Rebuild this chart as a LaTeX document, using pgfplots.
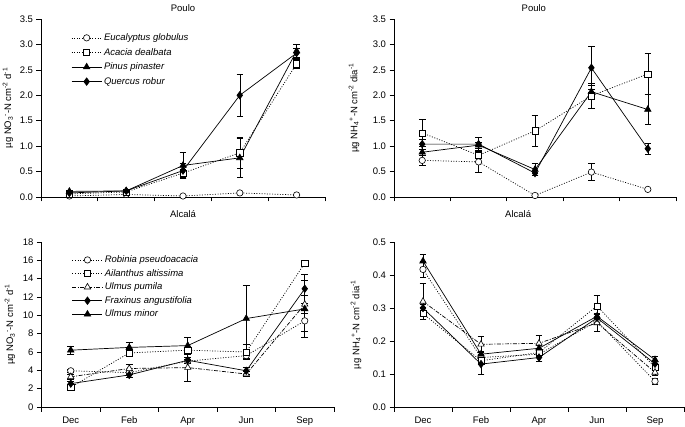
\documentclass[border=0pt]{standalone}
\usepackage{fontspec}
\setmainfont{Liberation Sans}
\usepackage{pgfplots}
\pgfplotsset{compat=1.18}
\newcommand\tf{\fontsize{9.5}{11.4}\selectfont}
\pgfplotsset{
  base/.style={
    scale only axis, xmin=-0.5, xmax=4.5, ymin=0,
    axis x line*=bottom, axis y line*=left,
    axis line style={line width=0.7pt},
    tick align=outside, tick style={line width=0.7pt, black},
    major tick length=4.5pt, minor tick length=4.5pt,
    xtick={0,...,4}, minor xtick={-0.5,0.5,...,4.5},
    major x tick style={draw=none},
    /pgf/number format/assume math mode=true,
    tick label style={font=\tf},
    xticklabel style={yshift=-2pt},
    label style={font=\tf},
    title style={font=\tf, anchor=center},
    legend style={draw=none, fill=none, anchor=north west,
      font=\itshape\tf, row sep=2.6pt, inner sep=0pt},
    legend cell align=left,
    legend image code/.code={\draw[mark repeat=2,mark phase=2] plot coordinates {(0pt,0pt)(15pt,0pt)(30pt,0pt)};},
  },
  eb/.style={error bars/.cd, y dir=both, y explicit,
    error bar style={solid, line width=0.6pt},
    error mark options={rotate=90, mark size=3.3pt, solid, line width=0.6pt}},
  sCirc/.style={black, line width=0.7pt, dash pattern=on 1pt off 1.6pt, mark=*, mark size=3.2pt, mark options={solid, fill=white, line width=0.6pt}, eb},
  sSq/.style={black, line width=0.7pt, dash pattern=on 1pt off 1.6pt, mark=square*, mark size=3.1pt, mark options={solid, fill=white, line width=0.6pt}, eb},
  sTriO/.style={black, line width=0.7pt, dash pattern=on 4pt off 1.5pt on 1pt off 1.5pt, mark=triangle*, mark size=3.7pt, mark options={solid, fill=white, line width=0.6pt}, eb},
  sTriF/.style={black, line width=0.7pt, solid, mark=triangle*, mark size=3.7pt, mark options={solid, fill=black}, eb},
  sDia/.style={black, line width=0.7pt, solid, mark=diamond*, mark size=3.7pt, mark options={solid, fill=black}, eb},
}
\begin{document}
\begin{tikzpicture}
\path[use as bounding box] (0pt,0pt) rectangle (685pt,426pt);
% ---------- Top left: Poulo NO3
\begin{axis}[base, at={(41pt,229pt)}, anchor=south west, width=284pt, height=178pt,
  ymax=3.5, ytick={0,0.5,1,1.5,2,2.5,3,3.5}, xticklabels={},
  yticklabel style={/pgf/number format/.cd, fixed, fixed zerofill, precision=1},
  ylabel={µg NO\textsubscript{3}\textsuperscript{-}-N cm\textsuperscript{-2} d\textsuperscript{-1}},
  ylabel style={at={(rel axis cs:0,0.5)}, yshift=33pt, anchor=center},
  title={Poulo}, title style={at={(rel axis cs:0.5,1)}, yshift=5pt},
  legend style={at={(rel axis cs:0.106,0.93)}, row sep=2.2pt}]
\addplot[sCirc] table[x=x,y=y,y error=e,row sep=\\]{x y e\\ 0 0.02 0.01\\ 1 0.05 0.01\\ 2 0.02 0.01\\ 3 0.08 0.02\\ 4 0.04 0.01\\};
\addlegendentry{Eucalyptus globulus}
\addplot[sSq] table[x=x,y=y,y error=e,row sep=\\]{x y e\\ 0 0.06 0.02\\ 1 0.10 0.02\\ 2 0.47 0.08\\ 3 0.87 0.30\\ 4 2.62 0.08\\};
\addlegendentry{Acacia dealbata}
\addplot[sTriF] table[x=x,y=y,y error=e,row sep=\\]{x y e\\ 0 0.11 0.02\\ 1 0.12 0.02\\ 2 0.62 0.25\\ 3 0.77 0.39\\ 4 2.87 0.13\\};
\addlegendentry{Pinus pinaster}
\addplot[sDia] table[x=x,y=y,y error=e,row sep=\\]{x y e\\ 0 0.08 0.02\\ 1 0.12 0.02\\ 2 0.52 0.15\\ 3 2.00 0.42\\ 4 2.83 0.10\\};
\addlegendentry{Quercus robur}
\end{axis}
% ---------- Top right: Poulo NH4
\begin{axis}[base, at={(394pt,229pt)}, anchor=south west, width=282pt, height=178pt,
  ymax=3.5, ytick={0,0.5,1,1.5,2,2.5,3,3.5}, xticklabels={},
  yticklabel style={/pgf/number format/.cd, fixed, fixed zerofill, precision=1},
  ylabel={µg NH\textsubscript{4}\textsuperscript{+}-N cm\textsuperscript{-2} dia\textsuperscript{-1}},
  ylabel style={at={(rel axis cs:0,0.5)}, yshift=40pt, anchor=center},
  title={Poulo}, title style={at={(rel axis cs:0.496,1)}, yshift=5pt}]
\addplot[sCirc] table[x=x,y=y,y error=e,row sep=\\]{x y e\\ 0 0.72 0.10\\ 1 0.69 0.21\\ 2 0.03 0.01\\ 3 0.49 0.17\\ 4 0.15 0.02\\};
\addplot[sSq] table[x=x,y=y,y error=e,row sep=\\]{x y e\\ 0 1.26 0.27\\ 1 0.82 0.05\\ 2 1.30 0.30\\ 3 1.99 0.25\\ 4 2.42 0.40\\};
\addplot[sTriF] table[x=x,y=y,y error=e,row sep=\\]{x y e\\ 0 0.88 0.06\\ 1 1.02 0.06\\ 2 0.54 0.12\\ 3 2.07 0.13\\ 4 1.72 0.29\\};
\addplot[sDia] table[x=x,y=y,y error=e,row sep=\\]{x y e\\ 0 1.04 0.10\\ 1 1.04 0.13\\ 2 0.47 0.05\\ 3 2.54 0.43\\ 4 0.95 0.11\\};
\end{axis}
% ---------- Bottom left: Alcala NO3
\begin{axis}[base, at={(41.5pt,19pt)}, anchor=south west, width=292.5pt, height=165pt,
  ymax=18, ytick={0,2,...,18}, xticklabels={Dec,Feb,Apr,Jun,Sep},
  ylabel={µg NO\textsubscript{3}\textsuperscript{-}-N cm\textsuperscript{-2} d\textsuperscript{-1}},
  ylabel style={at={(rel axis cs:0,0.5)}, yshift=31.5pt, anchor=center},
  title={Alcalá}, title style={at={(rel axis cs:0.484,1)}, yshift=22pt},
  legend style={at={(rel axis cs:0.104,0.93)}, row sep=1.2pt}]
\addplot[sCirc] table[x=x,y=y,y error=e,row sep=\\]{x y e\\ 0 3.95 0.2\\ 1 3.75 0.2\\ 2 5.0 0.2\\ 3 5.6 0.3\\ 4 9.4 1.15\\};
\addlegendentry{Robinia pseudoacacia}
\addplot[sSq] table[x=x,y=y,y error=e,row sep=\\]{x y e\\ 0 2.15 0.2\\ 1 5.9 0.4\\ 2 6.2 0.3\\ 3 6.0 0.8\\ 4 15.7 0.3\\};
\addlegendentry{Ailanthus altissima}
\addplot[sTriO] table[x=x,y=y,y error=e,row sep=\\]{x y e\\ 0 3.3 0.3\\ 1 4.2 0.5\\ 2 4.3 1.45\\ 3 3.6 0.3\\ 4 11.2 1.0\\};
\addlegendentry{Ulmus pumila}
\addplot[sDia] table[x=x,y=y,y error=e,row sep=\\]{x y e\\ 0 2.55 0.3\\ 1 3.5 0.3\\ 2 5.1 0.3\\ 3 3.95 0.4\\ 4 12.9 1.6\\};
\addlegendentry{Fraxinus angustifolia}
\addplot[sTriF] table[x=x,y=y,y error=e,row sep=\\]{x y e\\ 0 6.2 0.4\\ 1 6.5 0.55\\ 2 6.7 0.9\\ 3 9.65 3.6\\ 4 10.7 3.1\\};
\addlegendentry{Ulmus minor}
\end{axis}
% ---------- Bottom right: Alcala NH4
\begin{axis}[base, at={(394pt,19pt)}, anchor=south west, width=290pt, height=165pt,
  ymax=0.5, ytick={0,0.1,0.2,0.3,0.4,0.5}, xticklabels={Dec,Feb,Apr,Jun,Sep},
  yticklabel style={/pgf/number format/.cd, fixed, fixed zerofill, precision=1},
  ylabel={µg NH\textsubscript{4}\textsuperscript{+}-N cm\textsuperscript{-2} dia\textsuperscript{-1}},
  ylabel style={at={(rel axis cs:0,0.5)}, yshift=38pt, anchor=center},
  title={Alcalá}, title style={at={(rel axis cs:0.428,1)}, yshift=22pt}]
\addplot[sCirc] table[x=x,y=y,y error=e,row sep=\\]{x y e\\ 0 0.417 0.025\\ 1 0.150 0.01\\ 2 0.160 0.01\\ 3 0.260 0.01\\ 4 0.078 0.008\\};
\addplot[sSq] table[x=x,y=y,y error=e,row sep=\\]{x y e\\ 0 0.283 0.018\\ 1 0.140 0.01\\ 2 0.165 0.01\\ 3 0.306 0.033\\ 4 0.120 0.01\\};
\addplot[sTriO] table[x=x,y=y,y error=e,row sep=\\]{x y e\\ 0 0.320 0.055\\ 1 0.190 0.023\\ 2 0.193 0.023\\ 3 0.255 0.027\\ 4 0.105 0.01\\};
\addplot[sDia] table[x=x,y=y,y error=e,row sep=\\]{x y e\\ 0 0.300 0.01\\ 1 0.130 0.03\\ 2 0.150 0.013\\ 3 0.270 0.01\\ 4 0.131 0.01\\};
\addplot[sTriF] table[x=x,y=y,y error=e,row sep=\\]{x y e\\ 0 0.442 0.02\\ 1 0.160 0.01\\ 2 0.178 0.01\\ 3 0.275 0.01\\ 4 0.143 0.01\\};
\end{axis}
\end{tikzpicture}
\end{document}
